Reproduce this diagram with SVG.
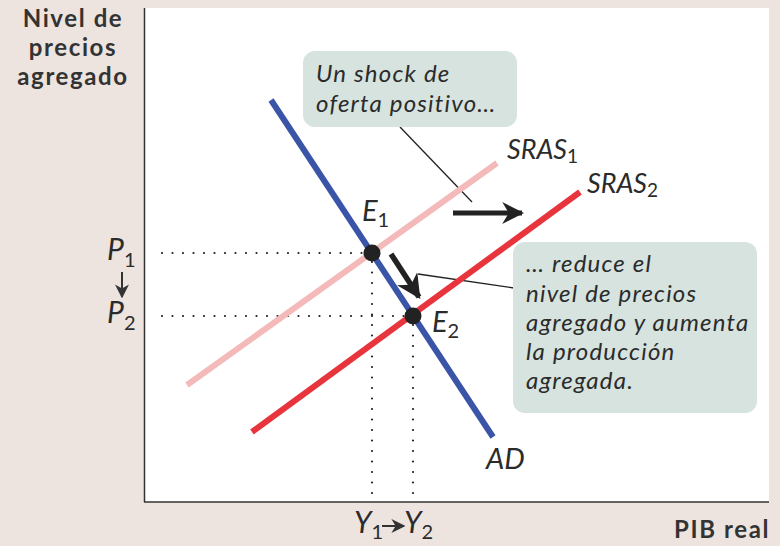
<svg xmlns="http://www.w3.org/2000/svg" width="780" height="546" viewBox="0 0 780 546">
<defs>
<style>
.t{font-family:Lato,"Open Sans",sans-serif;font-style:italic;fill:#2b2b2b}
.c{letter-spacing:1.2px}
.s{font-style:normal}
.b{font-family:Lato,"Open Sans",sans-serif;font-weight:bold;fill:#333;letter-spacing:1.6px}
.dot{stroke:#222;stroke-width:2.2;stroke-linecap:round;stroke-dasharray:0 10.5;fill:none}
.box{fill:#d6e3df}
.lead{stroke:#222;stroke-width:1.3;fill:none}
</style>
<marker id="ah" viewBox="0 0 10 10" refX="9" refY="5" markerWidth="4.4" markerHeight="4.4" orient="auto" markerUnits="strokeWidth">
<path d="M0,0 L10,5 L0,10 L3,5 z" fill="#222"/>
</marker>
<marker id="ahs" viewBox="0 0 10 10" refX="9" refY="5" markerWidth="7" markerHeight="7" orient="auto" markerUnits="strokeWidth">
<path d="M0,0 L10,5 L0,10 L3,5 z" fill="#333"/>
</marker>
</defs>
<rect x="0" y="0" width="780" height="546" fill="#ede3df"/>
<rect x="145" y="8" width="624" height="494" fill="#ffffff"/>
<g id="axes">
<line x1="144.5" y1="8" x2="144.5" y2="502" stroke="#333" stroke-width="1.5"/>
<line x1="144" y1="502" x2="769" y2="502" stroke="#333" stroke-width="1.5"/>
</g>
<g id="connectors">
<line class="dot" x1="162" y1="253" x2="366" y2="253"/>
<line class="dot" x1="162" y1="316" x2="406" y2="316"/>
<line class="dot" x1="372" y1="262" x2="372" y2="500"/>
<line class="dot" x1="413" y1="325" x2="413" y2="500"/>
<line class="lead" x1="400" y1="127" x2="472" y2="202"/>
<line class="lead" x1="418" y1="274" x2="514" y2="288"/>
<line x1="453" y1="213" x2="522" y2="213" stroke="#222" stroke-width="5" marker-end="url(#ah)"/>
<line x1="391" y1="254" x2="419" y2="297" stroke="#222" stroke-width="5.5" marker-end="url(#ah)"/>
</g>
<g id="SRAS1">
<line x1="187" y1="385" x2="497" y2="163" stroke="#f4b9b9" stroke-width="6"/>
<text class="t" x="507" y="159" font-size="27">SRAS<tspan class="s" font-size="19" dy="4">1</tspan></text>
</g>
<g id="SRAS2">
<line x1="252" y1="432" x2="580" y2="192" stroke="#e8343c" stroke-width="6"/>
<text class="t" x="587" y="193" font-size="27">SRAS<tspan class="s" font-size="19" dy="4">2</tspan></text>
</g>
<g id="AD">
<line x1="271" y1="100" x2="493" y2="437" stroke="#3a54a8" stroke-width="6"/>
<text class="t" x="486" y="469" font-size="29">AD</text>
</g>
<g id="E1">
<circle cx="372" cy="253" r="8.5" fill="#222"/>
<text class="t" x="362" y="221" font-size="29">E<tspan class="s" font-size="20" dy="6">1</tspan></text>
</g>
<g id="E2">
<circle cx="413" cy="316" r="8.5" fill="#222"/>
<text class="t" x="432" y="332" font-size="29">E<tspan class="s" font-size="20" dy="6">2</tspan></text>
</g>
<g id="callout1">
<rect class="box" x="303" y="51" width="214" height="76" rx="12"/>
<text class="t c" x="316" y="82" font-size="24">Un shock de</text>
<text class="t c" x="316" y="112" font-size="24">oferta positivo…</text>
</g>
<g id="callout2">
<rect class="box" x="513" y="242" width="244" height="171" rx="12"/>
<text class="t c" x="526" y="272" font-size="24">… reduce el</text>
<text class="t c" x="526" y="302" font-size="24">nivel de precios</text>
<text class="t c" x="526" y="331" font-size="24">agregado y aumenta</text>
<text class="t c" x="526" y="360" font-size="24">la producción</text>
<text class="t c" x="526" y="389" font-size="24">agregada.</text>
</g>
<g id="ylabel">
<text class="b" x="73" y="27" font-size="24" text-anchor="middle">Nivel de</text>
<text class="b" x="73" y="56" font-size="24" text-anchor="middle">precios</text>
<text class="b" x="73" y="85" font-size="24" text-anchor="middle">agregado</text>
</g>
<g id="xlabel">
<text class="b" x="770" y="538" font-size="24" text-anchor="end">PIB real</text>
</g>
<g id="plabels">
<text class="t" x="107" y="260" font-size="30">P<tspan class="s" font-size="20" dy="7">1</tspan></text>
<line x1="122" y1="272" x2="122" y2="297" stroke="#333" stroke-width="2" marker-end="url(#ahs)"/>
<text class="t" x="107" y="323" font-size="30">P<tspan class="s" font-size="20" dy="7">2</tspan></text>
</g>
<g id="ylab">
<text class="t" x="354" y="533" font-size="30">Y<tspan class="s" font-size="20" dy="6">1</tspan></text>
<line x1="382" y1="526" x2="404" y2="526" stroke="#333" stroke-width="2" marker-end="url(#ahs)"/>
<text class="t" x="404" y="533" font-size="30">Y<tspan class="s" font-size="20" dy="6">2</tspan></text>
</g>
</svg>
